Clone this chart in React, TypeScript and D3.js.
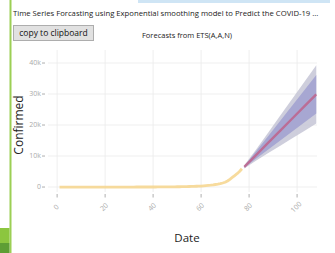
import { useEffect, useRef } from "react";
import * as d3 from "d3";

// observed confirmed cases, day 1..77
const confirmed = [
  1, 1, 1, 2, 3, 3, 3, 3, 3, 3,
  3, 3, 3, 3, 3, 3, 3, 3, 3, 3,
  3, 3, 3, 3, 3, 3, 3, 3, 3, 3,
  3, 3, 5, 6, 10, 12, 14, 15, 17, 18,
  20, 25, 30, 35, 40, 50, 60, 70, 80, 90,
  100, 120, 140, 160, 180, 200, 230, 260, 290, 320,
  380, 450, 520, 600, 700, 820, 950, 1100, 1300, 1550,
  1950, 2500, 3100, 3700, 4300, 5000, 5900,
];

// forecast from ETS(A,A,N)
const fcDays = [78, 83, 88, 93, 98, 103, 108];
const fcMean = [6500, 10400, 14300, 18200, 22100, 26000, 29900];
const lo80 = [6200, 9200, 12100, 15000, 17900, 20800, 23700];
const hi80 = [6800, 11600, 16500, 21400, 26300, 31200, 36100];
const lo95 = [6000, 8600, 11000, 13300, 15700, 18100, 20500];
const hi95 = [7000, 12200, 17600, 23100, 28500, 33900, 39300];

const xTicks = [0, 20, 40, 60, 80, 100];
const yTicks = [0, 10000, 20000, 30000, 40000];
const yTickLabels = ["0", "10k", "20k", "30k", "40k"];

const title =
  "Time Series Forcasting using Exponential smoothing model to Predict the COVID-19 ...";
const subtitle = "Forecasts from ETS(A,A,N)";

export default function App() {
  const ref = useRef<SVGSVGElement | null>(null);
  const width = 335;
  const height = 253;
  const plot = { left: 48, right: 317, top: 50, bottom: 192 };

  useEffect(() => {
    document.body.style.margin = "0";
    const svg = d3.select(ref.current);
    svg.selectAll("*").remove();

    const font = "'Open Sans', 'Noto Sans', sans-serif";
    const x = d3.scaleLinear().domain([-3.8, 108.3]).range([plot.left, plot.right]);
    const y = d3.scaleLinear().domain([-1600, 44200]).range([plot.bottom, plot.top]);

    // page chrome
    svg.append("rect").attr("x", 0).attr("y", 0).attr("width", width).attr("height", height).attr("fill", "#fff");
    svg.append("rect").attr("x", 138).attr("y", 0).attr("width", 192).attr("height", 3).attr("fill", "#cfe5f5");
    svg.append("rect").attr("x", 9.5).attr("y", 0).attr("width", 2).attr("height", height).attr("fill", "#9ccf55");
    svg.append("rect").attr("x", 0).attr("y", 228).attr("width", 9.5).attr("height", 15).attr("fill", "#8cc63f");
    svg.append("rect").attr("x", 0).attr("y", 243).attr("width", 9.5).attr("height", 10).attr("fill", "#5e9e35");

    svg.append("text")
      .attr("x", 13).attr("y", 16)
      .attr("font-family", font).attr("font-size", 7.7)
      .attr("fill", "#222")
      .text(title);

    // button
    svg.append("rect")
      .attr("x", 13.5).attr("y", 25.5).attr("width", 80).attr("height", 15)
      .attr("fill", "#e1e1e1").attr("stroke", "#adadad");
    svg.append("text")
      .attr("x", 53.5).attr("y", 36)
      .attr("text-anchor", "middle")
      .attr("font-family", font).attr("font-size", 8.5)
      .attr("fill", "#111")
      .text("copy to clipboard");

    svg.append("text")
      .attr("x", 187).attr("y", 38)
      .attr("text-anchor", "middle")
      .attr("font-family", font).attr("font-size", 7.5)
      .attr("fill", "#222")
      .text(subtitle);

    // grid
    const g = svg.append("g");
    g.selectAll(".vg").data(xTicks).enter().append("line")
      .attr("x1", (d) => x(d)).attr("x2", (d) => x(d))
      .attr("y1", plot.top).attr("y2", plot.bottom)
      .attr("stroke", "#ebebeb").attr("stroke-width", 0.8);
    g.selectAll(".hg").data(yTicks).enter().append("line")
      .attr("x1", plot.left).attr("x2", plot.right)
      .attr("y1", (d) => y(d)).attr("y2", (d) => y(d))
      .attr("stroke", "#ebebeb").attr("stroke-width", 0.8);

    // y ticks
    g.selectAll(".yt").data(yTicks).enter().append("line")
      .attr("x1", 42).attr("x2", 45)
      .attr("y1", (d) => y(d)).attr("y2", (d) => y(d))
      .attr("stroke", "#9a9a9a").attr("stroke-width", 0.8);
    g.selectAll(".yl").data(yTicks).enter().append("text")
      .attr("x", 41).attr("y", (d) => y(d))
      .attr("dy", "0.35em")
      .attr("text-anchor", "end")
      .attr("font-family", font).attr("font-size", 7)
      .attr("fill", "#aaa")
      .text((d, i) => yTickLabels[i]);

    // x ticks
    g.selectAll(".xt").data(xTicks).enter().append("line")
      .attr("x1", (d) => x(d)).attr("x2", (d) => x(d))
      .attr("y1", 194).attr("y2", 197.5)
      .attr("stroke", "#9a9a9a").attr("stroke-width", 0.8);
    g.selectAll(".xl").data(xTicks).enter().append("text")
      .attr("x", (d) => x(d) - 1).attr("y", 207)
      .attr("dy", "0.35em")
      .attr("text-anchor", "middle")
      .attr("transform", (d) => `rotate(-45, ${x(d) - 1}, 207)`)
      .attr("font-family", font).attr("font-size", 7)
      .attr("fill", "#aaa")
      .text((d) => d);

    // axis titles
    svg.append("text")
      .attr("transform", "translate(23, 125) rotate(-90)")
      .attr("text-anchor", "middle")
      .attr("font-family", font).attr("font-size", 12)
      .attr("fill", "#222")
      .text("Confirmed");
    svg.append("text")
      .attr("x", 187).attr("y", 242)
      .attr("text-anchor", "middle")
      .attr("font-family", font).attr("font-size", 11.5)
      .attr("fill", "#222")
      .text("Date");

    // forecast bands
    const idx = fcDays.map((_, i) => i);
    const band = (lo: number[], hi: number[]) =>
      d3.area<number>()
        .x((i) => x(fcDays[i]))
        .y0((i) => y(lo[i]))
        .y1((i) => y(hi[i]));
    svg.append("path").datum(idx)
      .attr("d", band(lo95, hi95))
      .attr("fill", "#c6c6d6").attr("fill-opacity", 0.85);
    svg.append("path").datum(idx)
      .attr("d", band(lo80, hi80))
      .attr("fill", "#9d9dd0").attr("fill-opacity", 0.8);

    // observed line
    const line = d3.line<number>()
      .x((d, i) => x(i + 1))
      .y((d) => y(d));
    svg.append("path").datum(confirmed)
      .attr("d", line)
      .attr("fill", "none")
      .attr("stroke", "#f6d58c")
      .attr("stroke-opacity", 0.85)
      .attr("stroke-width", 2.8)
      .attr("stroke-linejoin", "round");

    // forecast mean
    const meanLine = d3.line<number>()
      .x((i) => x(fcDays[i]))
      .y((i) => y(fcMean[i]));
    svg.append("path").datum(idx)
      .attr("d", meanLine)
      .attr("fill", "none")
      .attr("stroke", "#c25a82")
      .attr("stroke-opacity", 0.75)
      .attr("stroke-width", 2.4);
  }, []);

  return (
    <svg
      ref={ref}
      width={width}
      height={height}
      style={{ position: "absolute", left: 0, top: 0, display: "block" }}
    />
  );
}
